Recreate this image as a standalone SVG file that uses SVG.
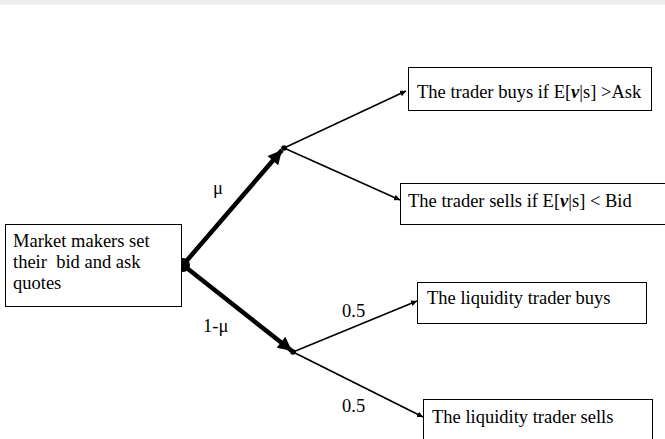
<svg xmlns="http://www.w3.org/2000/svg" width="665" height="439" viewBox="0 0 665 439">
<style>
text{font-family:"Liberation Serif","Times New Roman",serif;font-size:18.5px;fill:#000}
.box{fill:#fff;stroke:#000;stroke-width:1}
.thin{stroke:#000;stroke-width:1.6;fill:none}
.thick{stroke:#000;stroke-width:4.5;fill:none}
.bv{font-weight:bold;font-style:italic}
</style>
<defs>
<marker id="ah" viewBox="0 0 10 10" refX="10" refY="5" markerWidth="6" markerHeight="6" markerUnits="userSpaceOnUse" orient="auto"><path d="M0,0 L10,5 L0,10 z" fill="#000"/></marker>
<marker id="ahb" viewBox="0 0 10 10" refX="10" refY="5" markerWidth="16" markerHeight="14" markerUnits="userSpaceOnUse" orient="auto"><path d="M0,0 L10,5 L0,10 z" fill="#000"/></marker>
</defs>
<rect x="0" y="0" width="665" height="439" fill="#fff"/>
<rect x="0" y="0" width="665" height="4.5" fill="#eeeeee"/>
<g id="connectors">
<line class="thick" x1="183" y1="265" x2="282" y2="150" marker-end="url(#ahb)"/>
<line class="thick" x1="183" y1="265" x2="292" y2="351" marker-end="url(#ahb)"/>
<line class="thin" x1="284" y1="148" x2="406" y2="91" marker-end="url(#ah)"/>
<line class="thin" x1="284" y1="148" x2="400" y2="200" marker-end="url(#ah)"/>
<line class="thin" x1="293" y1="352" x2="417" y2="301" marker-end="url(#ah)"/>
<line class="thin" x1="293" y1="352" x2="423" y2="417" marker-end="url(#ah)"/>
<circle cx="183" cy="265" r="7" fill="#000"/>
<circle cx="284" cy="148" r="2.8" fill="#000"/>
<circle cx="293" cy="352" r="2.8" fill="#000"/>
<text x="213" y="194">μ</text>
<text x="203" y="332">1-μ</text>
<text x="342" y="317">0.5</text>
<text x="342" y="412">0.5</text>
</g>
<g id="start">
<rect class="box" x="5.5" y="224.5" width="176" height="82"/>
<text x="13" y="247">Market makers set</text>
<text x="13" y="268" xml:space="preserve">their  bid and ask</text>
<text x="13" y="289">quotes</text>
</g>
<g id="buy">
<rect class="box" x="408.5" y="67.5" width="243" height="43"/>
<text x="417" y="98">The trader buys if E[<tspan class="bv">v</tspan>|s] &gt;Ask</text>
</g>
<g id="sell">
<rect class="box" x="400.5" y="183.5" width="270" height="41"/>
<text x="408" y="207">The trader sells if E[<tspan class="bv">v</tspan>|s] &lt; Bid</text>
</g>
<g id="liqbuy">
<rect class="box" x="417.5" y="282.5" width="229" height="41"/>
<text x="427" y="304">The liquidity trader buys</text>
</g>
<g id="liqsell">
<rect class="box" x="423.5" y="399.5" width="229" height="50"/>
<text x="432" y="423">The liquidity trader sells</text>
</g>
</svg>
